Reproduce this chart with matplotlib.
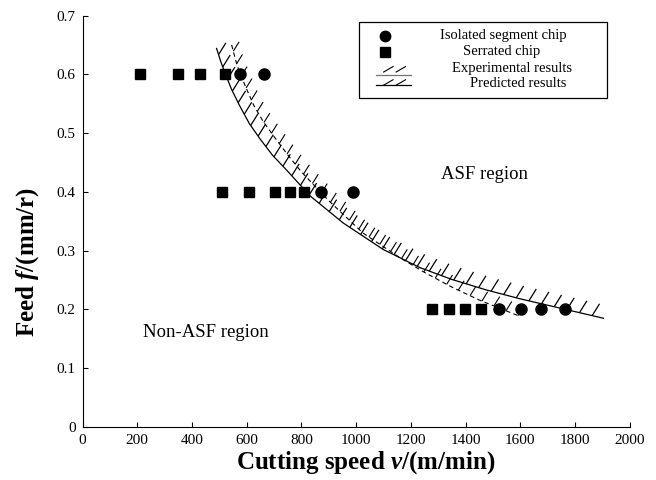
"""
Chip morphology map: feed vs cutting speed with ASF boundary curves.
"""

import numpy as np
import matplotlib
matplotlib.use('Agg')
import matplotlib.pyplot as plt
from matplotlib.collections import LineCollection

# --- data ---
serrated_v = [210, 350, 430, 520, 511, 609, 705, 759, 811, 1278, 1341, 1399, 1458]
serrated_f = [0.6, 0.6, 0.6, 0.6, 0.4, 0.4, 0.4, 0.4, 0.4, 0.2, 0.2, 0.2, 0.2]
isolated_v = [575, 662, 872, 988, 1522, 1602, 1674, 1762]
isolated_f = [0.6, 0.6, 0.4, 0.4, 0.2, 0.2, 0.2, 0.2]

# predicted boundary (solid line)
pred_v = [490, 505, 521, 545, 576, 610, 649, 695, 746, 832, 953, 1099, 1234, 1350, 1477, 1600, 1720, 1904]
pred_f = [0.644, 0.622, 0.602, 0.574, 0.545, 0.516, 0.490, 0.462, 0.437, 0.393, 0.347, 0.302, 0.271, 0.251, 0.233, 0.218, 0.205, 0.185]

# experimental boundary (dashed line)
exp_v = [545, 565, 595, 625, 660, 700, 750, 800, 900, 1025, 1160, 1250, 1350, 1450, 1600]
exp_f = [0.650, 0.615, 0.580, 0.548, 0.520, 0.494, 0.463, 0.434, 0.385, 0.330, 0.288, 0.263, 0.238, 0.216, 0.188]

x_ticks = [0, 200, 400, 600, 800, 1000, 1200, 1400, 1600, 1800, 2000]
y_ticks = [0, 0.1, 0.2, 0.3, 0.4, 0.5, 0.6, 0.7]

plt.rcParams['font.family'] = 'Liberation Serif'
plt.rcParams['mathtext.fontset'] = 'custom'
plt.rcParams['mathtext.rm'] = 'Liberation Serif:bold'
plt.rcParams['mathtext.it'] = 'Liberation Serif:italic:bold'


def hatch_line(ax, xs, ys, trans, spacing=13, length=12, angle=55, lw=0.8, color='k'):
    """Draw short slanted ticks along a polyline, spaced evenly in pixels."""
    pts = trans.transform(np.column_stack([xs, ys]))
    d = np.hypot(*np.diff(pts, axis=0).T)
    s = np.concatenate([[0], np.cumsum(d)])
    at = np.arange(spacing / 2, s[-1], spacing)
    base = np.column_stack([np.interp(at, s, pts[:, 0]), np.interp(at, s, pts[:, 1])])
    a = np.radians(angle)
    tip = base + length * np.array([np.cos(a), np.sin(a)])
    inv = trans.inverted()
    segs = np.stack([inv.transform(base), inv.transform(tip)], axis=1)
    ax.add_collection(LineCollection(segs, transform=trans, colors=color, linewidths=lw))


fig = plt.figure(figsize=(6.56, 4.8), dpi=100)
ax = fig.add_axes([0.1258, 0.1104, 0.8341, 0.8573])
ax.set_xlim(0, 2000)
ax.set_ylim(0, 0.7)

for side in ('top', 'right'):
    ax.spines[side].set_visible(False)
ax.spines['left'].set_linewidth(0.8)
ax.spines['bottom'].set_linewidth(0.8)
ax.set_xticks(x_ticks)
ax.set_xticklabels([str(v) for v in x_ticks])
ax.set_yticks(y_ticks)
ax.set_yticklabels(['0'] + [f'{v:.1f}' for v in y_ticks[1:]])
ax.tick_params(direction='in', length=3.5, width=0.8, labelsize=11, pad=5)

# boundary curves
ax.plot(pred_v, pred_f, color='k', lw=0.9)
hatch_line(ax, pred_v, pred_f, ax.transData, spacing=13, length=14, angle=58, lw=0.9)
ax.plot(exp_v, exp_f, color='k', lw=0.8, ls=(0, (4, 3)))
hatch_line(ax, exp_v, exp_f, ax.transData, spacing=13, length=11, angle=58, lw=0.8)

# chip types
ax.plot(serrated_v, serrated_f, 's', color='k', ms=7, ls='none')
ax.plot(isolated_v, isolated_f, 'o', color='k', ms=8, ls='none')

ax.text(1471, 0.43, 'ASF region', fontsize=13.5, ha='center', va='center')
ax.text(451, 0.16, 'Non-ASF region', fontsize=13.5, ha='center', va='center')

ax.set_xlabel('Cutting speed $v$/(m/min)', fontsize=18, fontweight='bold', va='center')
ax.set_ylabel('Feed $f$/(mm/r)', fontsize=18, fontweight='bold', va='center')
ax.xaxis.set_label_coords(0.518, -0.0875)
ax.yaxis.set_label_coords(-0.0996, 0.40)

# hand-drawn legend box (axes fraction)
T = ax.transAxes
ax.add_patch(plt.Rectangle((0.505, 0.7995), 0.4535, 0.1835, transform=T,
                           fill=False, ec='k', lw=0.9))
mx = 0.553
ax.plot([mx], [0.950], 'o', color='k', ms=7.5, transform=T)
ax.plot([mx], [0.911], 's', color='k', ms=6.5, transform=T)
ax.plot([0.536, 0.600], [0.855, 0.855], color='0.45', lw=0.9, transform=T)
hatch_line(ax, [0.538, 0.584], [0.862, 0.862], T, spacing=12.5, length=12, angle=30, lw=0.8)
ax.plot([0.536, 0.600], [0.830, 0.830], color='k', lw=0.9, transform=T)
hatch_line(ax, [0.538, 0.584], [0.830, 0.830], T, spacing=12.5, length=12, angle=30, lw=0.8)

leg_fs = 10.5
ax.text(0.653, 0.951, 'Isolated segment chip', transform=T, fontsize=leg_fs, va='center')
ax.text(0.695, 0.912, 'Serrated chip', transform=T, fontsize=leg_fs, va='center')
ax.text(0.675, 0.872, 'Experimental results', transform=T, fontsize=leg_fs, va='center')
ax.text(0.708, 0.835, 'Predicted results', transform=T, fontsize=leg_fs, va='center')

fig.savefig('out.png', dpi=100)
plt.close(fig)
